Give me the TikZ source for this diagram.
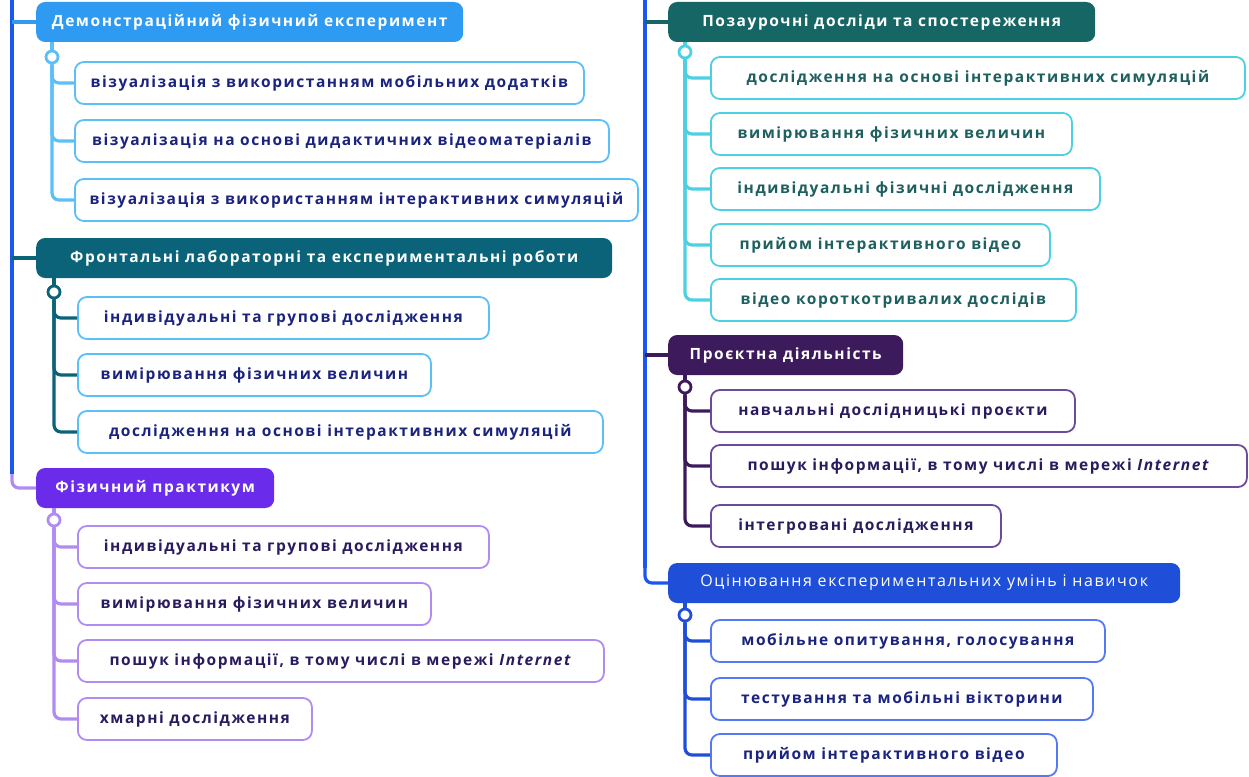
\documentclass[tikz,border=0pt]{standalone}
\usepackage{fontspec}
\setmainfont{Open Sans}
\newfontfamily\mapfont{Open Sans}[LetterSpace=10.0]
\usetikzlibrary{positioning}

\definecolor{trunkblue}{HTML}{1A56F0}
\definecolor{hblue}{HTML}{2E9AF2}
\definecolor{hteal}{HTML}{0A6378}
\definecolor{hviolet}{HTML}{6A2BEA}
\definecolor{hgreen}{HTML}{156664}
\definecolor{hplum}{HTML}{3D1A5B}
\definecolor{hroyal}{HTML}{1F4FD9}
\definecolor{skyline}{HTML}{5BC0F8}
\definecolor{lilac}{HTML}{B08CF2}
\definecolor{cyanline}{HTML}{4DD0E1}
\definecolor{plumline}{HTML}{6C4A9E}
\definecolor{royalline}{HTML}{5479F2}
\definecolor{navytext}{HTML}{1A237E}
\definecolor{violettext}{HTML}{2A1B5E}
\definecolor{tealtext}{HTML}{1E5F5F}

\begin{document}
\begin{tikzpicture}[x=1pt, y=-1pt,
  head/.style={fill=#1, rounded corners=9pt, minimum height=40pt, anchor=west,
    text=white, font=\mapfont\fontsize{15.5}{18}\selectfont\bfseries},
  kid/.style={draw=#1, fill=white, rounded corners=9pt, line width=1.8pt,
    minimum height=42pt, anchor=west, font=\mapfont\fontsize{15.5}{18}\selectfont\bfseries},
  knob/.style={circle, draw=#1, fill=white, line width=2.8pt, minimum size=12pt, inner sep=0pt},
  wire/.style={draw=#1, line width=3.2pt, rounded corners=7pt}]
  \useasboundingbox (0,0) rectangle (1249,776);

  % main trunks
  \coordinate (ltop) at (12,0);
  \coordinate (lfoot) at (12,474);
  \coordinate (rtop) at (645,0);
  \coordinate (rfoot) at (645,568);

  % left column: headers
  \node[head=hblue, minimum width=427pt] (h1) at (36,22) {Демонстраційний фізичний експеримент};
  \node[head=hteal, minimum width=576pt] (h2) at (36,258) {Фронтальні лабораторні та експериментальні роботи};
  \node[head=hviolet, minimum width=238pt] (h3) at (36,488) {Фізичний практикум};

  % right column: headers
  \node[head=hgreen, minimum width=427pt] (h4) at (668,22) {Позаурочні досліди та спостереження};
  \node[head=hplum, minimum width=235pt] (h5) at (668,355) {Проєктна діяльність};
  \node[head=hroyal, minimum width=512pt, font=\mapfont\fontsize{16}{18}\selectfont] (h6) at (668,583) {Оцінювання експериментальних умінь і навичок};

  % knobs under the headers
  \node[knob=skyline] (c1) at (52,57) {};
  \node[knob=hteal] (c2) at (54,292) {};
  \node[knob=lilac] (c3) at (54,520) {};
  \node[knob=cyanline] (c4) at (685,52) {};
  \node[knob=hplum] (c5) at (685,387) {};
  \node[knob=hroyal] (c6) at (685,615) {};

  % children of h1
  \node[kid=skyline, text=navytext, minimum width=509pt] (k11) at (74,83) {візуалізація з використанням мобільних додатків};
  \node[kid=skyline, text=navytext, minimum width=534pt] (k12) at (74,141) {візуалізація на основі дидактичних відеоматеріалів};
  \node[kid=skyline, text=navytext, minimum width=563pt] (k13) at (74,200) {візуалізація з використанням інтерактивних симуляцій};

  % children of h2
  \node[kid=skyline, text=navytext, minimum width=411pt] (k21) at (77,318) {індивідуальні та групові дослідження};
  \node[kid=skyline, text=navytext, minimum width=353pt] (k22) at (77,375) {вимірювання фізичних величин};
  \node[kid=skyline, text=navytext, minimum width=525pt] (k23) at (77,432) {дослідження на основі інтерактивних симуляцій};

  % children of h3
  \node[kid=lilac, text=violettext, minimum width=411pt] (k31) at (77,547) {індивідуальні та групові дослідження};
  \node[kid=lilac, text=violettext, minimum width=353pt] (k32) at (77,604) {вимірювання фізичних величин};
  \node[kid=lilac, text=violettext, minimum width=526pt] (k33) at (77,661) {пошук інформації, в тому числі в мережі \textit{Internet}};
  \node[kid=lilac, text=violettext, minimum width=234pt] (k34) at (77,719) {хмарні дослідження};

  % children of h4
  \node[kid=cyanline, text=tealtext, minimum width=534pt] (k41) at (710,78) {дослідження на основі інтерактивних симуляцій};
  \node[kid=cyanline, text=tealtext, minimum width=361pt] (k42) at (710,134) {вимірювання фізичних величин};
  \node[kid=cyanline, text=tealtext, minimum width=389pt] (k43) at (710,189) {індивідуальні фізичні дослідження};
  \node[kid=cyanline, text=tealtext, minimum width=339pt] (k44) at (710,245) {прийом інтерактивного відео};
  \node[kid=cyanline, text=tealtext, minimum width=365pt] (k45) at (710,300) {відео короткотривалих дослідів};

  % children of h5
  \node[kid=plumline, text=violettext, minimum width=364pt] (k51) at (710,411) {навчальні дослідницькі проєкти};
  \node[kid=plumline, text=violettext, minimum width=536pt] (k52) at (710,466) {пошук інформації, в тому числі в мережі \textit{Internet}};
  \node[kid=plumline, text=violettext, minimum width=290pt] (k53) at (710,526) {інтегровані дослідження};

  % children of h6
  \node[kid=royalline, text=navytext, minimum width=394pt] (k61) at (710,641) {мобільне опитування, голосування};
  \node[kid=royalline, text=navytext, minimum width=382pt] (k62) at (710,699) {тестування та мобільні вікторини};
  \node[kid=royalline, text=navytext, minimum width=346pt] (k63) at (710,755) {прийом інтерактивного відео};

  % trunks and branches to the headers
  \draw[wire=trunkblue, rounded corners=0pt] (ltop) -- (lfoot);
  \draw[wire=hblue] (ltop |- h1.west) -- (h1.west);
  \draw[wire=hteal] (ltop |- h2.west) -- (h2.west);
  \draw[wire=lilac] (lfoot) |- (h3.west);
  \draw[wire=trunkblue, rounded corners=0pt] (rtop) -- (rfoot);
  \draw[wire=hgreen] (rtop |- h4.west) -- (h4.west);
  \draw[wire=hplum] (rtop |- h5.west) -- (h5.west);
  \draw[wire=trunkblue] (rfoot) |- (h6.west);

  % header to knob stems
  \draw[wire=skyline] (c1 |- h1.south) -- (c1.north);
  \draw[wire=hteal] (c2 |- h2.south) -- (c2.north);
  \draw[wire=lilac] (c3 |- h3.south) -- (c3.north);
  \draw[wire=cyanline] (c4 |- h4.south) -- (c4.north);
  \draw[wire=hplum] (c5 |- h5.south) -- (c5.north);
  \draw[wire=hroyal] (c6 |- h6.south) -- (c6.north);

  % knob to children
  \foreach \k in {k11,k12,k13} \draw[wire=skyline] (c1.south) |- (\k.west);
  \foreach \k in {k21,k22,k23} \draw[wire=hteal] (c2.south) |- (\k.west);
  \foreach \k in {k31,k32,k33,k34} \draw[wire=lilac] (c3.south) |- (\k.west);
  \foreach \k in {k41,k42,k43,k44,k45} \draw[wire=cyanline] (c4.south) |- (\k.west);
  \foreach \k in {k51,k52,k53} \draw[wire=hplum] (c5.south) |- (\k.west);
  \foreach \k in {k61,k62,k63} \draw[wire=hroyal] (c6.south) |- (\k.west);
\end{tikzpicture}
\end{document}
